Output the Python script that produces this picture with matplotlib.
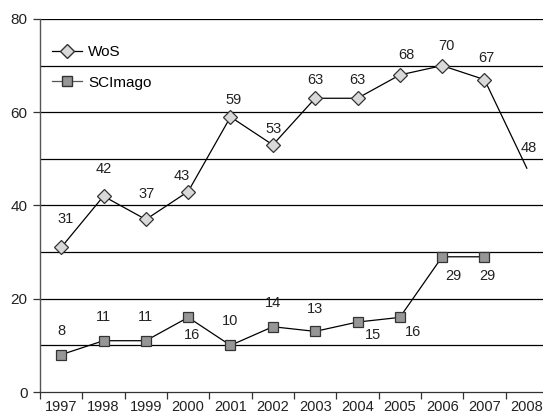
import matplotlib
matplotlib.use("Agg")
import matplotlib.pyplot as plt
from matplotlib.lines import Line2D

years = ["1997", "1998", "1999", "2000", "2001", "2002", "2003", "2004", "2005", "2006", "2007", "2008"]
wos = [31, 42, 37, 43, 59, 53, 63, 63, 68, 70, 67, 48]
scimago = [8, 11, 11, 16, 10, 14, 13, 15, 16, 29, 29]
wos_labels = ["31", "42", "37", "43", "59", "53", "63", "63", "68", "70", "67", "48"]
sci_labels = ["8", "11", "11", "16", "10", "14", "13", "15", "16", "29", "29"]
yticks = [0, 20, 40, 60, 80]

plt.rcParams['font.family'] = ['Liberation Sans', 'DejaVu Sans']

fig = plt.figure(figsize=(5.43, 4.17), dpi=100)
W, H = 543, 417
left, right_px, bottom_px, top_px = 40, 548, 392, 19
ax = fig.add_axes([left / W, 1 - bottom_px / H, (right_px - left) / W, (bottom_px - top_px) / H])

x = list(range(len(years)))
for g in range(10, 81, 10):
    ax.axhline(g, color='black', lw=0.9, zorder=1)

ax.plot(x, wos, color='black', lw=0.9, zorder=2)
ax.plot(x[:-1], wos[:-1], linestyle='none', marker='D', ms=7.5, mfc='#d9d9d9', mec='#333333', mew=0.9, zorder=3)
xs = x[:len(scimago)]
ax.plot(xs, scimago, color='black', lw=0.9, zorder=2)
ax.plot(xs, scimago, linestyle='none', marker='s', ms=6.5, mfc='#969696', mec='#333333', mew=0.9, zorder=3)

wos_off = [(4, 28), (0, 27), (1, 25), (-6, 16), (3, 17), (1, 16), (0, 18), (0, 18), (7, 20), (4, 20), (2, 22), (2, 20)]
for i, (v, t) in enumerate(zip(wos, wos_labels)):
    dx, dy = wos_off[i]
    ax.annotate(t, (i, v), xytext=(dx, dy), textcoords='offset pixels', ha='center', va='center',
                fontsize=10.5, color='#222222')

sci_off = [(0, 24), (0, 24), (0, 24), (4, -18), (0, 24), (0, 24), (0, 22), (15, -13), (13, -15), (11, -19), (3, -19)]
for i, (v, t) in enumerate(zip(scimago, sci_labels)):
    dx, dy = sci_off[i]
    ax.annotate(t, (i, v), xytext=(dx, dy), textcoords='offset pixels', ha='center', va='center',
                fontsize=10.5, color='#222222')

ax.set_xlim(-0.5, 11.5)
ax.set_ylim(0, 80)
ax.set_yticks(yticks)
ax.set_yticklabels([str(v) for v in yticks], fontsize=11, color='#222222')
ax.set_xticks(x)
ax.set_xticklabels(years, fontsize=10.5, color='#222222')
ax.set_xticks([i - 0.5 for i in range(len(years) + 1)], minor=True)
ax.tick_params(axis='x', which='major', length=0, pad=6)
ax.tick_params(axis='x', which='minor', length=5, width=0.9, color='#333333')
ax.tick_params(axis='y', length=5, width=0.9, color='#333333', pad=4)

for s in ['top', 'right']:
    ax.spines[s].set_visible(False)
ax.spines['left'].set_color('#555555')
ax.spines['bottom'].set_color('#333333')
ax.spines['left'].set_linewidth(1.0)
ax.spines['bottom'].set_linewidth(0.9)

h1 = Line2D([], [], color='black', lw=0.9, marker='D', ms=7.5, mfc='#d9d9d9', mec='#333333')
h2 = Line2D([], [], color='#555555', lw=0.9, marker='s', ms=6.5, mfc='#969696', mec='#333333')
ax.legend([h1, h2], ['WoS', 'SCImago'], loc='upper left', bbox_to_anchor=(0.005, 0.955), frameon=False, fontsize=11,
          handlelength=2.0, labelspacing=1.1, handletextpad=0.4, borderaxespad=0.2)

fig.savefig('out.png', dpi=100)
